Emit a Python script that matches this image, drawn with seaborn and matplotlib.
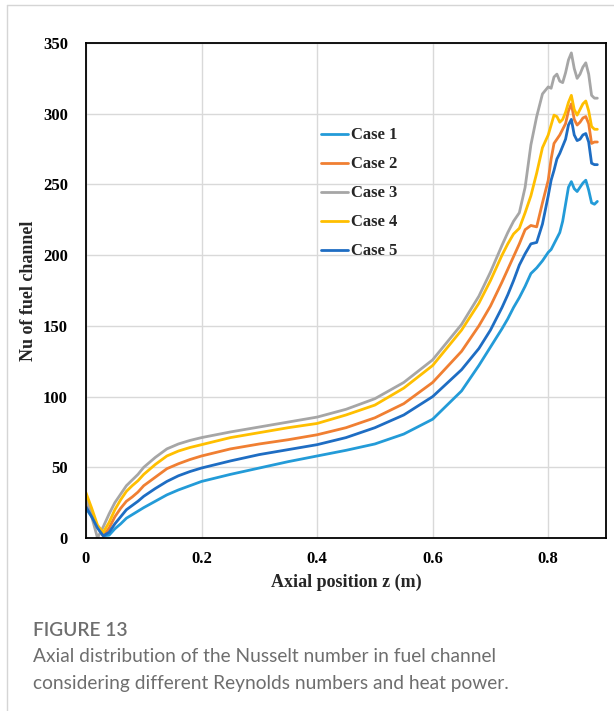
import numpy as np
import pandas as pd
import seaborn as sns
import matplotlib.pyplot as plt
from matplotlib.lines import Line2D

# Axial positions (m) shared by all cases
z = [0.0, 0.01, 0.02, 0.03, 0.04, 0.05, 0.06, 0.07, 0.08, 0.09, 0.10, 0.12, 0.14, 0.16, 0.18,
     0.20, 0.25, 0.30, 0.35, 0.40, 0.45, 0.50, 0.55, 0.60, 0.65, 0.68, 0.70, 0.72, 0.73, 0.74,
     0.75, 0.76, 0.77, 0.78, 0.79, 0.80, 0.805, 0.81, 0.815, 0.82, 0.825, 0.83, 0.835, 0.84,
     0.845, 0.85, 0.855, 0.86, 0.865, 0.87, 0.875, 0.88, 0.885]

case1 = [21, 15, 8, 1.5, 2, 6.5, 10, 14, 16.5, 19, 21.5, 26, 30.5, 34, 37,
         40, 45, 49.5, 54, 58, 62, 66.5, 73.5, 84, 104, 122, 135, 148, 155, 163,
         170, 178, 187, 191, 196, 202, 204, 208, 212, 216, 224, 236, 248, 252,
         247, 245, 248, 251, 253, 246, 237, 236, 238]
case2 = [26, 17, 8, 1.5, 7, 15, 21, 26, 29, 32.5, 37, 43, 49, 52.5, 55.5,
         58, 63, 66.5, 69.5, 73, 78, 85, 95, 110, 132, 150, 164, 181, 190, 199,
         208, 218, 221, 220, 237, 253, 268, 279, 282, 285, 289, 293, 302, 307,
         296, 292, 294, 297, 298, 293, 279, 280, 280]
case3 = [30, 15, 0, 8, 17, 25, 31, 37, 41, 45, 50, 57, 63, 66.5, 69,
         71, 75, 78.5, 82, 85.5, 91, 98.5, 110, 126, 151, 171, 188, 207, 216, 224,
         230, 248, 278, 298, 314, 319, 318, 326, 328, 323, 322, 329, 338, 343,
         332, 325, 328, 333, 336, 328, 313, 311, 311]
case4 = [32, 21, 9, 4, 11, 20, 27, 33, 37, 40.5, 45, 52, 58, 61.5, 64,
         66, 71, 74.5, 78, 81, 87, 94, 106, 122, 147, 166, 182, 200, 208, 215,
         219, 230, 242, 258, 276, 285, 292, 299, 298, 294, 296, 301, 308, 313,
         303, 299, 303, 307, 309, 302, 291, 289, 289]
case5 = [22, 15, 7, 1.5, 4, 10, 15, 20, 23, 26, 29.5, 35, 40, 44, 47,
         49.5, 54.5, 59, 62.5, 66, 71, 78, 87, 100, 119, 134, 147, 163, 172, 182,
         193, 201, 208, 209, 222, 242, 253, 260, 268, 272, 277, 282, 292, 296,
         285, 281, 282, 285, 286, 280, 265, 264, 264]

cases = ["Case 1", "Case 2", "Case 3", "Case 4", "Case 5"]
series = [case1, case2, case3, case4, case5]
colors = ["#239BD8", "#F07F32", "#A6A6A6", "#FFBF00", "#1E6DC3"]

x_ticks = [0, 0.2, 0.4, 0.6, 0.8]
y_ticks = [0, 50, 100, 150, 200, 250, 300, 350]

df = pd.concat(
    [pd.DataFrame({"z": z, "Nu": vals, "case": name}) for name, vals in zip(cases, series)],
    ignore_index=True,
)

sns.set_theme(style="white")
plt.rcParams["font.family"] = ["Liberation Serif", "DejaVu Serif"]

fig = plt.figure(figsize=(6.14, 7.11), dpi=100)
ax = fig.add_axes([0.140, 0.2433, 0.847, 0.6962])

sns.lineplot(data=df, x="z", y="Nu", hue="case", palette=colors, hue_order=cases,
             sort=False, estimator=None, linewidth=2.0, ax=ax, legend=False)

ax.set_xlim(0, 0.9)
ax.set_ylim(0, 350)
ax.set_xticks(x_ticks)
ax.set_xticklabels([f"{t:g}" for t in x_ticks])
ax.set_yticks(y_ticks)
ax.set_yticklabels([str(t) for t in y_ticks])
ax.grid(True, color="#D9D9D9", linewidth=1.0)
ax.set_axisbelow(True)
for s in ax.spines.values():
    s.set_color("black")
    s.set_linewidth(1.3)
ax.tick_params(axis="both", length=0, labelsize=12, colors="black")
ax.tick_params(axis="x", pad=9)
ax.tick_params(axis="y", pad=13)
for lbl in ax.get_xticklabels() + ax.get_yticklabels():
    lbl.set_fontweight("bold")

ax.set_xlabel("Axial position z (m)", fontsize=13, fontweight="bold", labelpad=5)
ax.set_ylabel("Nu of fuel channel", fontsize=13, fontweight="bold", labelpad=4)

handles = [Line2D([], [], color=c, linewidth=2.0) for c in colors]
ax.legend(handles, cases, loc="upper left", bbox_to_anchor=(0.44, 0.843), frameon=False,
          prop={"family": ["Liberation Serif"], "weight": "bold", "size": 12},
          handlelength=1.6, handletextpad=0.2, labelspacing=0.78, borderaxespad=0)

# Page frame lines
fig.add_artist(Line2D([7 / 614, 1], [1 - 5 / 711, 1 - 5 / 711], color="#D5D5D5", linewidth=1.0))
fig.add_artist(Line2D([7 / 614, 7 / 614], [0, 1 - 5 / 711], color="#D5D5D5", linewidth=1.0))

cap_font = ["Lato", "DejaVu Sans"]
fig.text(33 / 614, 1 - 630 / 711, "FIGURE 13", fontsize=13.75, fontweight="semibold",
         color="#6E6E6E", family=cap_font, va="center", ha="left")
fig.text(33 / 614, 1 - 657 / 711, "Axial distribution of the Nusselt number in fuel channel",
         fontsize=13.75, color="#6E6E6E", family=cap_font, va="center", ha="left")
fig.text(33 / 614, 1 - 684 / 711, "considering different Reynolds numbers and heat power.",
         fontsize=13.75, color="#6E6E6E", family=cap_font, va="center", ha="left")

fig.savefig("out.png", dpi=100)
